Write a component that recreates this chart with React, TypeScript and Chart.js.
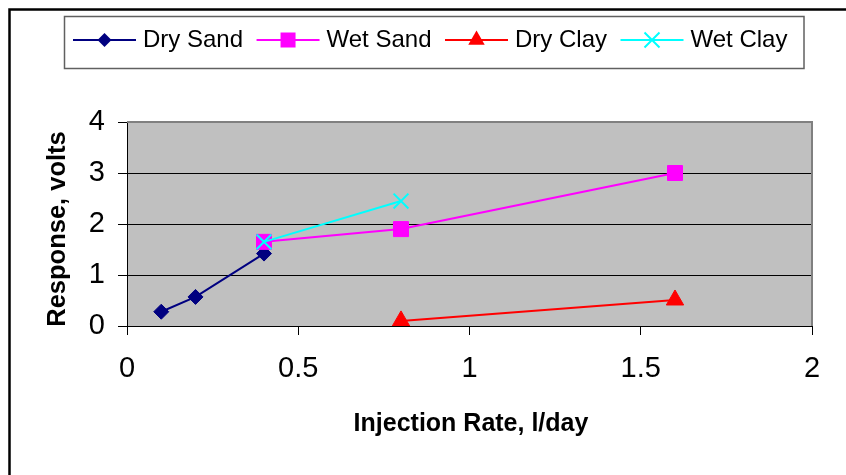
import React, { useEffect, useRef } from 'react';
import { Chart, registerables } from 'chart.js';

Chart.register(...registerables);

// Measured response per soil type against injection rate
const seriesNames = ['Dry Sand', 'Wet Sand', 'Dry Clay', 'Wet Clay'];
const drySandX = [0.1, 0.2, 0.4];
const drySandY = [0.28, 0.57, 1.42];
const wetSandX = [0.4, 0.8, 1.6];
const wetSandY = [1.65, 1.9, 3.0];
const dryClayX = [0.8, 1.6];
const dryClayY = [0.1, 0.51];
const wetClayX = [0.4, 0.8];
const wetClayY = [1.65, 2.45];

const xTicks = [0, 0.5, 1, 1.5, 2];
const yTicks = [0, 1, 2, 3, 4];
const xTitle = 'Injection Rate, l/day';
const yTitle = 'Response, volts';

const FONT = "'Liberation Sans', Arial, Helvetica, sans-serif";
const colors = ['#000080', '#FF00FF', '#FF0000', '#00FFFF'];
const markerKinds = ['diamond', 'square', 'triangle', 'cross'];

const toPoints = (xs: number[], ys: number[]) => xs.map((x, i) => ({ x, y: ys[i] }));

function drawMarker(ctx: CanvasRenderingContext2D, kind: string, x: number, y: number, color: string) {
  ctx.save();
  ctx.fillStyle = color;
  ctx.strokeStyle = color;
  ctx.beginPath();
  if (kind === 'diamond') {
    const r = 7;
    ctx.moveTo(x - r, y);
    ctx.lineTo(x, y - r);
    ctx.lineTo(x + r, y);
    ctx.lineTo(x, y + r);
    ctx.closePath();
    ctx.fill();
  } else if (kind === 'square') {
    const h = 7.5;
    ctx.rect(x - h, y - h, 2 * h, 2 * h);
    ctx.fill();
  } else if (kind === 'triangle') {
    const r = 9.5;
    ctx.moveTo(x, y - r);
    ctx.lineTo(x + r * 0.866, y + r * 0.5);
    ctx.lineTo(x - r * 0.866, y + r * 0.5);
    ctx.closePath();
    ctx.fill();
  } else {
    const h = 7.5;
    ctx.lineWidth = 2;
    ctx.moveTo(x - h, y - h);
    ctx.lineTo(x + h, y + h);
    ctx.moveTo(x + h, y - h);
    ctx.lineTo(x - h, y + h);
    ctx.stroke();
  }
  ctx.restore();
}

const framePlugin = {
  id: 'frame',
  beforeDraw(chart: any) {
    const { ctx, chartArea: a } = chart;
    ctx.save();
    ctx.fillStyle = '#FFFFFF';
    ctx.fillRect(0, 0, chart.width, chart.height);
    ctx.fillStyle = '#C0C0C0';
    ctx.fillRect(a.left, a.top, a.right - a.left, a.bottom - a.top);
    ctx.restore();
  },
  beforeDatasetsDraw(chart: any) {
    const { ctx, chartArea: a } = chart;
    ctx.save();
    ctx.strokeStyle = '#808080';
    ctx.lineWidth = 2;
    ctx.beginPath();
    ctx.moveTo(a.left, a.top);
    ctx.lineTo(a.right, a.top);
    ctx.lineTo(a.right, a.bottom);
    ctx.stroke();
    ctx.restore();
  },
  afterDraw(chart: any) {
    const { ctx, chartArea: a } = chart;
    ctx.save();

    // chart outline
    ctx.strokeStyle = '#000000';
    ctx.lineWidth = 2.5;
    ctx.strokeRect(9.5, 9.5, 1000, 700);

    // legend box
    ctx.strokeStyle = '#606060';
    ctx.lineWidth = 1.5;
    ctx.strokeRect(64.5, 16.5, 739.5, 52);

    ctx.font = `24px ${FONT}`;
    ctx.fillStyle = '#000000';
    ctx.textBaseline = 'alphabetic';
    ctx.textAlign = 'left';
    let x = 73;
    const ly = 40;
    seriesNames.forEach((name, i) => {
      ctx.strokeStyle = colors[i];
      ctx.lineWidth = 2;
      ctx.beginPath();
      ctx.moveTo(x, ly);
      ctx.lineTo(x + 63, ly);
      ctx.stroke();
      drawMarker(ctx, markerKinds[i], x + 31.5, ly, colors[i]);
      ctx.fillStyle = '#000000';
      ctx.fillText(name, x + 70, 47);
      x += 70 + ctx.measureText(name).width + 13.5;
    });

    // axis titles
    ctx.font = `bold 25px ${FONT}`;
    ctx.textAlign = 'center';
    ctx.fillText(xTitle, (a.left + a.right) / 2 + 1.5, 431);
    ctx.translate(64.5, 229);
    ctx.rotate(-Math.PI / 2);
    ctx.font = `bold 25.5px ${FONT}`;
    ctx.fillText(yTitle, 0, 0);
    ctx.restore();
  },
};

export default function App() {
  const canvasRef = useRef<HTMLCanvasElement | null>(null);

  useEffect(() => {
    const canvas = canvasRef.current;
    if (!canvas) return;

    const base = {
      showLine: true,
      borderWidth: 2,
      tension: 0,
      fill: false,
    };

    const chart = new Chart(canvas, {
      type: 'scatter',
      data: {
        datasets: [
          {
            ...base,
            label: seriesNames[0],
            data: toPoints(drySandX, drySandY),
            borderColor: colors[0],
            backgroundColor: colors[0],
            pointStyle: 'rectRot',
            pointRadius: 7.5,
            pointBorderWidth: 1,
            order: 3,
          },
          {
            ...base,
            label: seriesNames[1],
            data: toPoints(wetSandX, wetSandY),
            borderColor: colors[1],
            backgroundColor: colors[1],
            pointStyle: 'rect',
            pointRadius: 10.6,
            pointBorderWidth: 1,
            order: 2,
          },
          {
            ...base,
            label: seriesNames[2],
            data: toPoints(dryClayX, dryClayY),
            borderColor: colors[2],
            backgroundColor: colors[2],
            pointStyle: 'triangle',
            pointRadius: 10,
            pointBorderWidth: 1,
            order: 1,
          },
          {
            ...base,
            label: seriesNames[3],
            data: toPoints(wetClayX, wetClayY),
            borderColor: colors[3],
            backgroundColor: colors[3],
            pointStyle: 'crossRot',
            pointRadius: 10.5,
            pointBorderWidth: 2,
            order: 0,
          },
        ],
      },
      options: {
        animation: false,
        responsive: false,
        layout: { padding: { top: 122, right: 34, left: 0, bottom: 0 } },
        plugins: {
          legend: { display: false },
          tooltip: { enabled: false },
          title: { display: false },
        },
        scales: {
          x: {
            type: 'linear',
            min: 0,
            max: 2,
            afterFit: (s: any) => {
              s.height = 475 - 326;
            },
            afterBuildTicks: (s: any) => {
              s.ticks = xTicks.map((v) => ({ value: v }));
            },
            ticks: {
              callback: (v: any) => String(v),
              font: { family: FONT, size: 29 },
              color: '#000000',
              padding: 16.5,
              maxRotation: 0,
              autoSkip: false,
            },
            grid: {
              drawOnChartArea: false,
              drawTicks: true,
              tickLength: 9,
              color: '#000000',
              lineWidth: 1,
            },
            border: { display: true, color: '#000000', width: 1 },
          },
          y: {
            type: 'linear',
            min: 0,
            max: 4,
            afterFit: (s: any) => {
              s.width = 127;
            },
            afterBuildTicks: (s: any) => {
              s.ticks = yTicks.map((v) => ({ value: v }));
            },
            ticks: {
              callback: (v: any) => String(v),
              font: { family: FONT, size: 29 },
              color: '#000000',
              padding: 13,
              autoSkip: false,
            },
            grid: {
              drawOnChartArea: true,
              drawTicks: true,
              tickLength: 9,
              color: '#000000',
              lineWidth: 1,
            },
            border: { display: true, color: '#000000', width: 1 },
          },
        },
      },
      plugins: [framePlugin],
    } as any);

    return () => chart.destroy();
  }, []);

  return (
    <div style={{ position: 'absolute', left: 0, top: 0, width: 846, height: 475, background: '#fff' }}>
      <canvas ref={canvasRef} width={846} height={475} style={{ display: 'block' }} />
    </div>
  );
}
